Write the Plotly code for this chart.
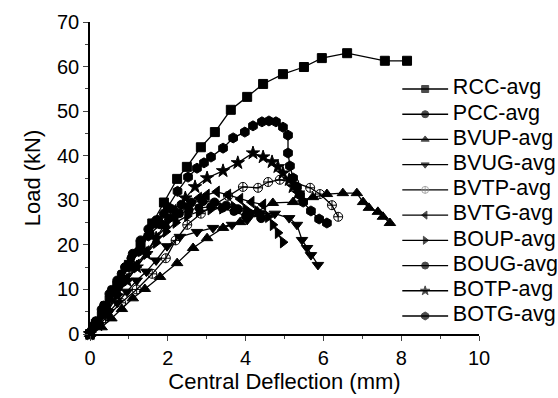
import plotly.graph_objects as go

# ---------------- data ----------------
rcc_x = [0, 0.15, 0.4, 0.7, 1.0, 1.3, 1.6, 1.9, 2.24, 2.49, 2.85, 3.21, 3.62, 4.04, 4.45, 4.96, 5.50, 5.96, 6.61, 7.58, 8.15]
rcc_y = [0, 2.3, 6.2, 10.8, 15.5, 20, 24.8, 29.5, 34.8, 37.5, 41.9, 45.3, 50.3, 53.2, 56.1, 58.3, 59.9, 61.9, 63.0, 61.3, 61.3]

pcc_x = [0, 0.15, 0.35, 0.55, 0.8, 1.05, 1.3, 1.55, 1.8, 2.05, 2.3, 2.55, 2.8, 3.1, 3.4, 3.7, 4.0]
pcc_y = [0, 3, 6.5, 10, 13.5, 17, 20, 22.5, 24.5, 26, 27, 27.8, 28.3, 28.5, 28.2, 27.5, 26.5]

bvup_x = [0, 0.3, 0.55, 0.82, 1.1, 1.41, 1.80, 2.24, 2.65, 3.01, 3.42, 3.86, 4.3, 4.70, 5.22, 5.73, 6.09, 6.50, 6.86, 7.02, 7.17, 7.40, 7.53, 7.71]
bvup_y = [0, 1.5, 3.5, 5.6, 8, 10.1, 12.8, 15.9, 19.3, 21.5, 23.8, 25.1, 27.5, 29.4, 29.6, 30.7, 31.4, 31.6, 31.6, 29.6, 28.3, 27.4, 26.3, 24.9]

bvug_x = [0, 0.2, 0.45, 0.7, 0.95, 1.2, 1.45, 1.7, 1.98, 2.31, 2.75, 3.16, 3.65, 4.04, 4.37, 4.75, 5.12, 5.32, 5.45, 5.58, 5.68, 5.86]
bvug_y = [0, 2, 4.5, 7, 9.5, 12, 14, 16.5, 19.7, 21.8, 22.9, 23.8, 24.5, 25.6, 27.1, 27.0, 26.0, 24.5, 21.1, 19.3, 17.7, 15.5]

bvtp_x = [0, 0.4, 0.8, 1.2, 1.6, 1.95, 2.2, 2.5, 2.85, 3.2, 3.55, 3.93, 4.32, 4.58, 4.88, 5.25, 5.66, 5.91, 6.22, 6.38]
bvtp_y = [0, 3.5, 7, 10, 13.5, 17, 21, 24.5, 27, 29, 31, 33, 32.8, 34.1, 34.6, 34.0, 32.8, 31.4, 28.9, 26.3]

bvtg_x = [0, 0.2, 0.45, 0.7, 0.95, 1.2, 1.45, 1.7, 1.95, 2.2, 2.5, 2.8, 3.0, 3.26, 3.55, 3.86, 4.15, 4.45]
bvtg_y = [0, 2.5, 5.5, 9, 12.5, 15.5, 18.5, 21.5, 24, 26.5, 28.5, 30.5, 31.2, 31.9, 31.2, 30.3, 29.6, 29.0]

boup_x = [0, 0.2, 0.45, 0.7, 0.95, 1.2, 1.45, 1.7, 1.95, 2.2, 2.5, 2.8, 3.1, 3.4, 3.7, 4.0, 4.3, 4.58, 4.70, 4.83, 4.96]
boup_y = [0, 2.5, 5.5, 9, 12, 15, 18, 20.5, 23, 25, 26.5, 27.5, 28, 28.2, 28.5, 28, 27.5, 26.3, 24.5, 22.7, 20.6]

boug_x = [0, 0.1, 0.3, 0.5, 0.7, 0.9, 1.1, 1.3, 1.5, 1.7, 1.9, 2.1, 2.35, 2.6, 2.9, 3.2, 3.5, 3.8, 4.1, 4.4]
boug_y = [0, 2, 5.5, 9, 12, 15, 18, 21, 23.5, 25.5, 27, 28, 29, 29.5, 29.8, 29.5, 28.8, 28, 27, 26]

botp_x = [0, 0.2, 0.45, 0.7, 0.95, 1.2, 1.45, 1.7, 1.95, 2.2, 2.45, 2.70, 3.01, 3.42, 3.80, 4.19, 4.45, 4.68, 4.83, 4.96, 5.12, 5.22, 5.35]
botp_y = [0, 2, 5, 8.5, 12, 15, 18, 21.5, 25, 27.5, 30.5, 33.0, 35.0, 36.6, 38.4, 40.6, 39.7, 38.6, 37.5, 36.1, 34.6, 33.0, 31.6]

botg_x = [0, 0.1, 0.3, 0.5, 0.75, 1.0, 1.25, 1.5, 1.75, 2.0, 2.25, 2.52, 2.75, 2.93, 3.11, 3.42, 3.68, 3.98, 4.19, 4.42, 4.60, 4.78, 4.96, 5.09, 5.09, 5.14, 5.22, 5.32, 5.40, 5.48, 5.68, 5.89, 6.09]
botg_y = [0, 1.5, 4.5, 8, 11.5, 15, 18.5, 22, 25.5, 28.5, 32, 35.2, 37.2, 38.4, 39.7, 41.7, 44.0, 45.3, 46.7, 47.6, 47.8, 47.6, 46.4, 44.6, 40.6, 37.7, 35.0, 33.0, 31.2, 29.6, 27.6, 25.8, 24.9]

x_ticks = [0, 2, 4, 6, 8, 10]
y_ticks = [0, 10, 20, 30, 40, 50, 60, 70]

series = [
    ("RCC-avg", rcc_x, rcc_y, "square", 9),
    ("PCC-avg", pcc_x, pcc_y, "circle", 8),
    ("BVUP-avg", bvup_x, bvup_y, "triangle-up", 10),
    ("BVUG-avg", bvug_x, bvug_y, "triangle-down", 10),
    ("BVTP-avg", bvtp_x, bvtp_y, "circle-cross-open", 9),
    ("BVTG-avg", bvtg_x, bvtg_y, "triangle-left", 10),
    ("BOUP-avg", boup_x, boup_y, "triangle-right", 10),
    ("BOUG-avg", boug_x, boug_y, "circle", 9),
    ("BOTP-avg", botp_x, botp_y, "star", 10),
    ("BOTG-avg", botg_x, botg_y, "hexagon", 10),
]

fig = go.Figure()
for name, xs, ys, sym, sz in series:
    fig.add_trace(go.Scatter(
        x=xs, y=ys, name=name, mode="lines+markers",
        line=dict(color="black", width=1.3),
        marker=dict(symbol=sym, size=sz, color="black",
                    line=dict(color="black", width=1)),
        cliponaxis=False, showlegend=False,
    ))

# ---- legend drawn as a small key panel on an overlay axis ----
n = len(series)
for i, (name, xs, ys, sym, sz) in enumerate(series):
    row = n - 1 - i
    legend_color = "#888888" if sym == "circle-cross-open" else "black"
    fig.add_trace(go.Scatter(
        x=[0.061, 0.341, 0.622, None, 0.68], y=[row, row, row, None, row],
        xaxis="x2", yaxis="y2", mode="lines+markers+text", connectgaps=False,
        line=dict(color="black", width=1.3),
        marker=dict(symbol=sym, size=[0, 7 if sym != "hexagon" else 8, 0, 0, 0],
                    color=legend_color, line=dict(color=legend_color, width=1)),
        text=["", "", "", "", name], textposition="middle right",
        textfont=dict(size=21.5, color="black"),
        cliponaxis=False, showlegend=False, hoverinfo="skip",
    ))

font = "Arial, Liberation Sans, sans-serif"
fig.update_layout(
    width=558, height=398,
    margin=dict(l=90, r=79, t=22, b=64),
    paper_bgcolor="white", plot_bgcolor="rgba(0,0,0,0)",
    font=dict(family=font, size=20, color="black"),
    showlegend=False,
    xaxis=dict(range=[0, 10], tickvals=x_ticks, ticks="outside", ticklen=5,
               tickwidth=1.3, showline=True, linecolor="black", linewidth=1.5,
               showgrid=False, zeroline=False, automargin=False,
               minor=dict(dtick=1, ticks="outside", ticklen=3, tickwidth=1.3),
               title=dict(text="Central Deflection (mm)", font=dict(size=22), standoff=2),
               tickfont=dict(size=20)),
    yaxis=dict(range=[0, 70], tickvals=y_ticks, ticks="outside", ticklen=5,
               tickwidth=1.3, showline=True, linecolor="black", linewidth=1.5,
               showgrid=False, zeroline=False, automargin=False,
               minor=dict(dtick=5, ticks="outside", ticklen=3, tickwidth=1.3),
               title=dict(text="Load (kN)", font=dict(size=22), standoff=10),
               tickfont=dict(size=20)),
    xaxis2=dict(domain=[0.79, 1.0], range=[0, 1], visible=False, anchor="y2"),
    yaxis2=dict(domain=[0, 1], range=[-0.714, 11.657], visible=False, anchor="x2",
                overlaying="y"),
)

fig.write_html("out.html")
